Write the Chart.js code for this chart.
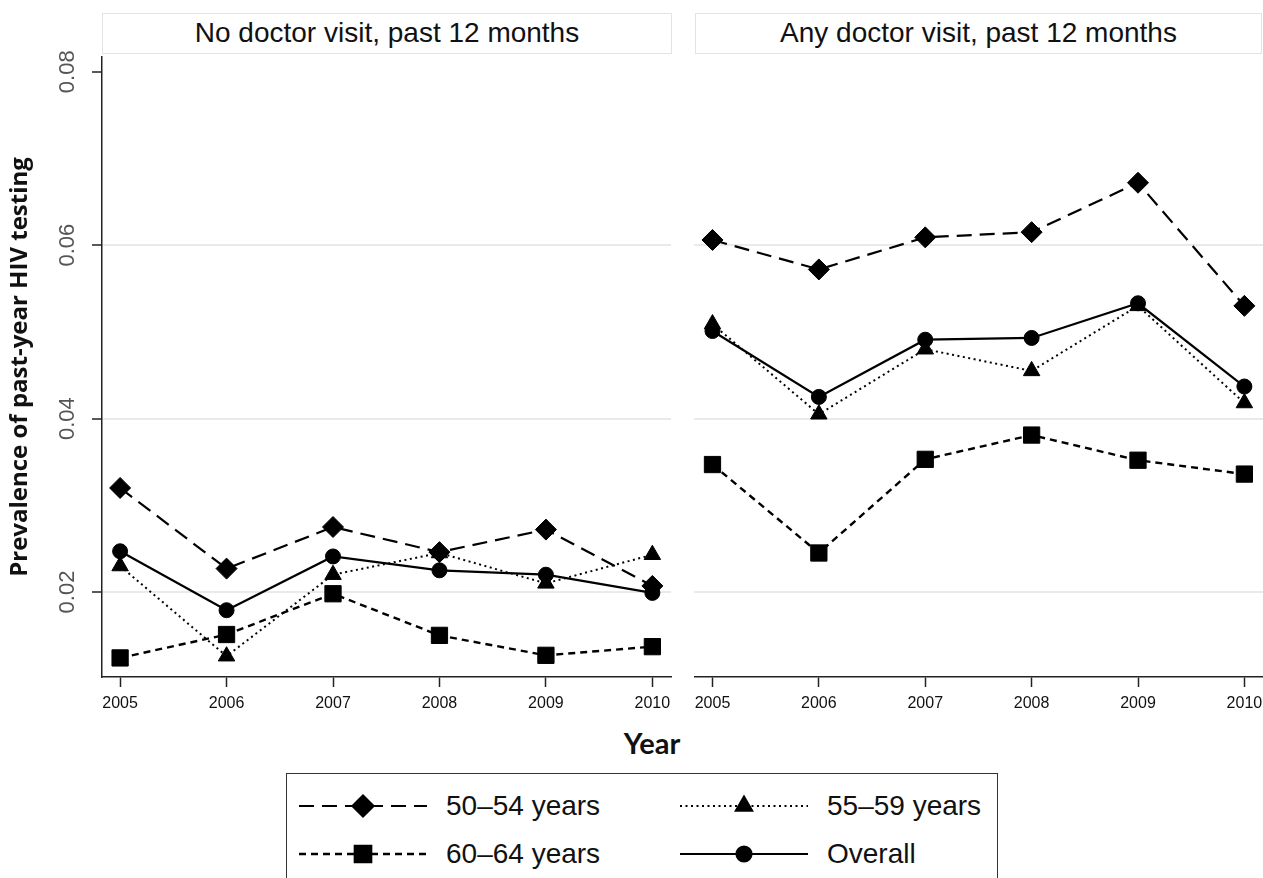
<!DOCTYPE html>
<html>
<head>
<meta charset="utf-8">
<script src="https://cdn.jsdelivr.net/npm/chart.js@4.4.1/dist/chart.umd.min.js"></script>
<style>
  html, body { margin: 0; padding: 0; background: #fff; }
  #fig { position: relative; width: 1263px; height: 878px; overflow: hidden; background: #fff;
         font-family: "Liberation Sans", Arial, sans-serif; color: #111; }
  .strip { position: absolute; top: 13px; height: 41px; box-sizing: border-box;
           border: 1.5px solid #e3e3e3; font-size: 28px; line-height: 38px; text-align: center; }
  canvas { position: absolute; top: 0; }
  #xtitle { position: absolute; left: 552px; width: 200px; top: 723px; text-align: center;
            font-family: Lato, "Open Sans", sans-serif; font-weight: bold; font-size: 29px; line-height: 40px; }
  #legend { position: absolute; left: 286px; top: 773px; width: 712px; height: 130px; box-sizing: border-box;
            border: 1.5px solid #333; }
  .item { position: absolute; height: 40px; }
  .item canvas { position: absolute; left: 0; top: 5px; }
  .item span { position: absolute; top: 0; font-size: 28px; line-height: 40px; white-space: nowrap; }
</style>
</head>
<body>
<div id="fig">
  <div class="strip" id="strip0" style="left:102px;width:570px;"></div>
  <div class="strip" id="strip1" style="left:695px;width:567px;"></div>
  <canvas id="leftPanel" width="680" height="720" style="left:0;width:680px;height:720px;"></canvas>
  <canvas id="rightPanel" width="583" height="720" style="left:680px;width:583px;height:720px;"></canvas>
  <div id="xtitle"></div>
  <div id="legend"></div>
</div>
<script>
// ---- data ----
const years = [2005, 2006, 2007, 2008, 2009, 2010];
const yearLabels = ['2005', '2006', '2007', '2008', '2009', '2010'];
const yTicks = [0.02, 0.04, 0.06, 0.08];
const yTickLabels = ['0.02', '0.04', '0.06', '0.08'];
const panelTitles = ['No doctor visit, past 12 months', 'Any doctor visit, past 12 months'];
const seriesNames = ['50–54 years', '55–59 years', '60–64 years', 'Overall'];
const yTitle = 'Prevalence of past-year HIV testing';
const xTitle = 'Year';

// No doctor visit, past 12 months
const noVisit50to54 = [0.0320, 0.0227, 0.0275, 0.0246, 0.0272, 0.0207];
const noVisit55to59 = [0.0230, 0.0126, 0.0220, 0.0245, 0.0210, 0.0243];
const noVisit60to64 = [0.0124, 0.0151, 0.0198, 0.0150, 0.0127, 0.0137];
const noVisitOverall = [0.0247, 0.0179, 0.0241, 0.0225, 0.0220, 0.0199];

// Any doctor visit, past 12 months
const anyVisit50to54 = [0.0606, 0.0572, 0.0609, 0.0615, 0.0672, 0.0530];
const anyVisit55to59 = [0.0509, 0.0405, 0.0480, 0.0455, 0.0530, 0.0418];
const anyVisit60to64 = [0.0347, 0.0245, 0.0353, 0.0381, 0.0352, 0.0336];
const anyVisitOverall = [0.0501, 0.0425, 0.0491, 0.0493, 0.0533, 0.0437];

// ---- styling ----
const FONT = '"Liberation Sans", Arial, sans-serif';
const Y_MIN = 0.0102, Y_MAX = 0.0817;
const X_MIN = 2004.83, X_MAX = 2010.175;

// line/marker look per series (same order as seriesNames)
const seriesStyles = [
  { pointStyle: 'rectRot', pointRadius: 10.5, borderDash: [15, 8], borderWidth: 2.2, order: 0 },
  { pointStyle: 'triangle', pointRadius: 9.5, borderDash: [2, 3.5], borderWidth: 2, order: 3 },
  { pointStyle: 'rect', pointRadius: 11.5, borderDash: [7, 5], borderWidth: 2.4, order: 2 },
  { pointStyle: 'circle', pointRadius: 7.5, borderDash: [], borderWidth: 2.2, order: 1 }
];

function makeDatasets(seriesValues) {
  return seriesValues.map((vals, i) => {
    const st = seriesStyles[i];
    return {
      label: seriesNames[i],
      data: years.map((yr, k) => ({ x: yr, y: vals[k] })),
      borderColor: '#000',
      backgroundColor: '#000',
      borderWidth: st.borderWidth,
      borderDash: st.borderDash,
      pointStyle: st.pointStyle,
      pointRadius: st.pointRadius,
      pointHoverRadius: st.pointRadius,
      pointBackgroundColor: '#000',
      pointBorderColor: '#000',
      pointBorderWidth: 1,
      tension: 0,
      order: st.order,
      clip: false
    };
  });
}

const gridColor = (ctx) => (ctx.tick && ctx.tick.value === 0.08) ? 'rgba(0,0,0,0)' : '#eaeaea';
const setYTicks = (s) => { s.ticks = yTicks.map(v => ({ value: v })); };
const setXTicks = (s) => { s.ticks = years.map(v => ({ value: v })); };

function xScale() {
  return {
    type: 'linear', min: X_MIN, max: X_MAX,
    afterBuildTicks: setXTicks,
    ticks: {
      callback: (v) => yearLabels[years.indexOf(v)],
      font: { family: FONT, size: 16 }, color: '#111', padding: 7,
      maxRotation: 0, autoSkip: false
    },
    grid: { drawOnChartArea: false, tickLength: 10, tickColor: '#222', tickWidth: 1.5 },
    border: { color: '#222', width: 1.5 },
    // fixed axis height; end labels may overhang the plot edges
    afterFit: (s) => { s.height = 43; s.paddingLeft = 0; s.paddingRight = 0; }
  };
}

function panelOptions(isLeft) {
  const y = isLeft ? {
    type: 'linear', min: Y_MIN, max: Y_MAX,
    afterBuildTicks: setYTicks,
    ticks: {
      callback: (v) => yTickLabels[yTicks.indexOf(v)],
      minRotation: 90, maxRotation: 90, crossAlign: 'center', padding: 3,
      font: { family: FONT, size: 22 }, color: '#555'
    },
    grid: { color: gridColor, lineWidth: 2, tickColor: '#222', tickLength: 10, tickWidth: 1.5 },
    border: { color: '#222', width: 1.5 },
    title: {
      display: true, text: yTitle, color: '#111',
      font: { family: '"Open Sans", Lato, sans-serif', weight: 'bold', size: 24 },
      padding: { top: 6, bottom: 0 }
    },
    afterFit: (s) => { s.width = 102; }
  } : {
    type: 'linear', min: Y_MIN, max: Y_MAX,
    afterBuildTicks: setYTicks,
    ticks: { display: false },
    grid: { color: gridColor, lineWidth: 2, drawTicks: false },
    border: { display: false },
    afterFit: (s) => { s.width = 14.4; }
  };
  return {
    responsive: false,
    animation: false,
    devicePixelRatio: 1,
    layout: { autoPadding: false, padding: { top: 57, right: isLeft ? 9 : 0, left: 0, bottom: 0 } },
    plugins: { legend: { display: false }, tooltip: { enabled: false }, title: { display: false } },
    scales: { x: xScale(), y: y }
  };
}

new Chart(document.getElementById('leftPanel'), {
  type: 'line',
  data: { datasets: makeDatasets([noVisit50to54, noVisit55to59, noVisit60to64, noVisitOverall]) },
  options: panelOptions(true)
});

new Chart(document.getElementById('rightPanel'), {
  type: 'line',
  data: { datasets: makeDatasets([anyVisit50to54, anyVisit55to59, anyVisit60to64, anyVisitOverall]) },
  options: panelOptions(false)
});

// panel headers and axis title
document.getElementById('strip0').textContent = panelTitles[0];
document.getElementById('strip1').textContent = panelTitles[1];
document.getElementById('xtitle').textContent = xTitle;

// legend: two columns, two rows, each with a line sample and marker
const legendPos = [
  { left: 12, top: 12 }, { left: 393, top: 12 },
  { left: 12, top: 60 }, { left: 393, top: 60 }
];
const legendOrder = [0, 1, 2, 3];
const legendBox = document.getElementById('legend');

function drawMarker(ctx, style, x, y) {
  if (Chart.helpers && Chart.helpers.drawPoint) {
    Chart.helpers.drawPoint(ctx, { pointStyle: style.pointStyle, rotation: 0, radius: style.pointRadius, borderWidth: 1 }, x, y);
    return;
  }
  const r = style.pointRadius;
  ctx.beginPath();
  if (style.pointStyle === 'circle') ctx.arc(x, y, r, 0, Math.PI * 2);
  else if (style.pointStyle === 'rectRot') { ctx.moveTo(x, y - r); ctx.lineTo(x + r, y); ctx.lineTo(x, y + r); ctx.lineTo(x - r, y); ctx.closePath(); }
  else if (style.pointStyle === 'rect') { const s = r * Math.SQRT1_2; ctx.rect(x - s, y - s, 2 * s, 2 * s); }
  else { ctx.moveTo(x, y - r); ctx.lineTo(x + r * 0.866, y + r / 2); ctx.lineTo(x - r * 0.866, y + r / 2); ctx.closePath(); }
  ctx.fill();
}

legendOrder.forEach((si, idx) => {
  const st = seriesStyles[si];
  const item = document.createElement('div');
  item.className = 'item';
  item.style.left = legendPos[idx].left + 'px';
  item.style.top = legendPos[idx].top + 'px';
  const c = document.createElement('canvas');
  c.width = 128; c.height = 30;
  const ctx = c.getContext('2d');
  ctx.strokeStyle = '#000';
  ctx.fillStyle = '#000';
  ctx.lineWidth = st.borderWidth;
  ctx.setLineDash(st.borderDash);
  ctx.beginPath(); ctx.moveTo(0, 15); ctx.lineTo(128, 15); ctx.stroke();
  ctx.setLineDash([]);
  drawMarker(ctx, st, 64, 15);
  const span = document.createElement('span');
  span.style.left = '147px';
  span.textContent = seriesNames[si];
  item.appendChild(c);
  item.appendChild(span);
  legendBox.appendChild(item);
});
</script>
</body>
</html>
